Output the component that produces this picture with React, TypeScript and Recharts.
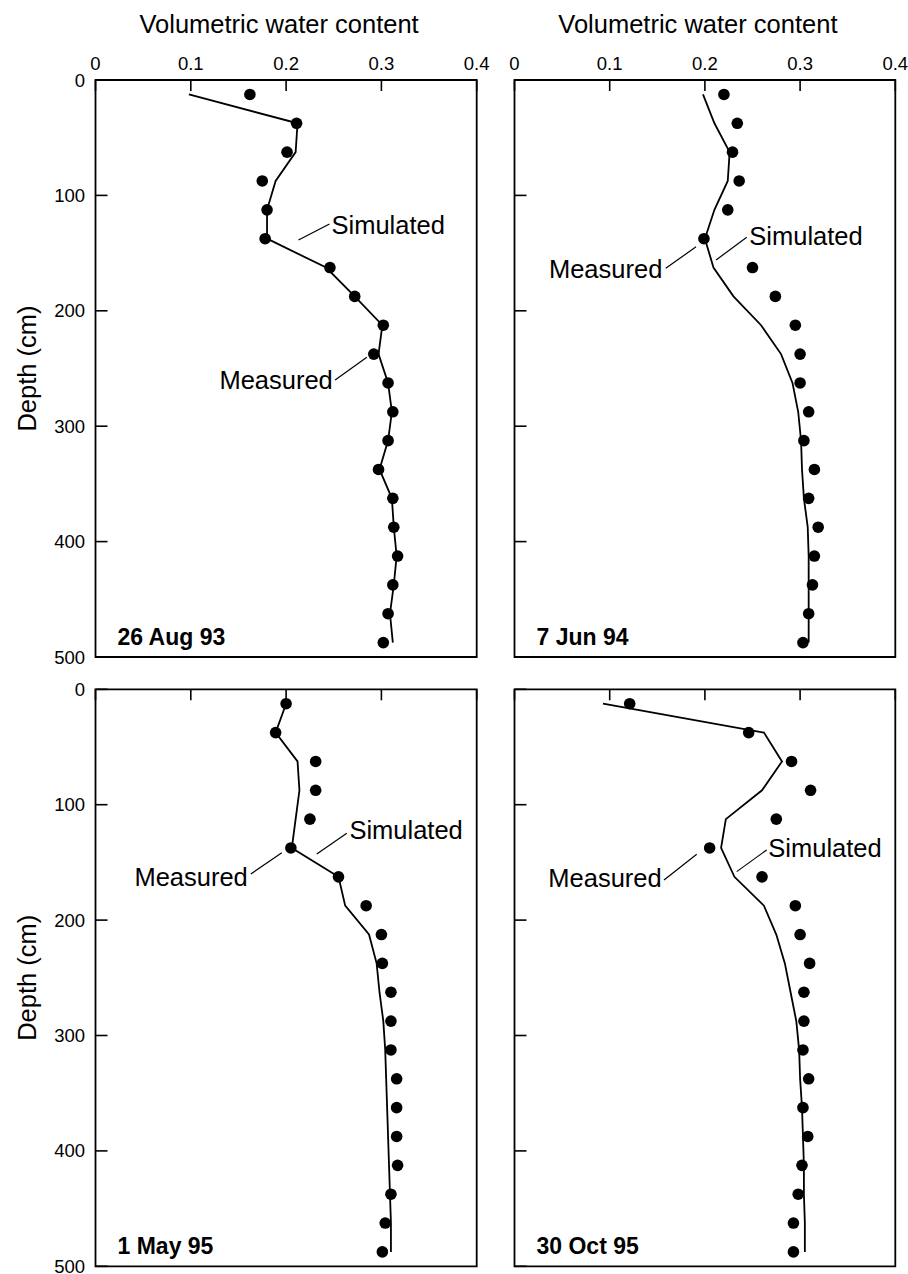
import React from "react";
import { ScatterChart, Scatter, XAxis, YAxis, ReferenceArea, ReferenceDot } from "recharts";

const FONT = '"Liberation Sans", Arial, Helvetica, sans-serif';

// sampling depths (cm), shared by every profile
const depths = [
  12.5, 37.5, 62.5, 87.5, 112.5, 137.5, 162.5, 187.5, 212.5, 237.5,
  262.5, 287.5, 312.5, 337.5, 362.5, 387.5, 412.5, 437.5, 462.5, 487.5,
];

const thetaTicks = [0, 0.1, 0.2, 0.3, 0.4];
const depthTicks = [0, 100, 200, 300, 400, 500];

// 26 Aug 93
const aug93Measured = [0.162, 0.211, 0.201, 0.175, 0.18, 0.178, 0.246, 0.272, 0.302, 0.292, 0.307, 0.312, 0.307, 0.297, 0.312, 0.313, 0.317, 0.312, 0.307, 0.302];
const aug93Simulated = [0.098, 0.212, 0.21, 0.189, 0.18, 0.18, 0.242, 0.272, 0.301, 0.297, 0.307, 0.311, 0.307, 0.298, 0.311, 0.313, 0.316, 0.313, 0.309, 0.312];

// 7 Jun 94
const jun94Measured = [0.22, 0.234, 0.229, 0.236, 0.224, 0.199, 0.25, 0.274, 0.295, 0.3, 0.3, 0.309, 0.304, 0.315, 0.309, 0.319, 0.315, 0.313, 0.309, 0.303];
const jun94Simulated = [0.198, 0.21, 0.226, 0.224, 0.21, 0.2, 0.209, 0.23, 0.259, 0.28, 0.292, 0.298, 0.301, 0.302, 0.304, 0.308, 0.309, 0.309, 0.309, 0.309];

// 1 May 95
const may95Measured = [0.2, 0.189, 0.231, 0.231, 0.225, 0.205, 0.255, 0.284, 0.3, 0.301, 0.31, 0.31, 0.31, 0.316, 0.316, 0.316, 0.317, 0.31, 0.304, 0.301];
const may95Simulated = [0.2, 0.189, 0.212, 0.214, 0.21, 0.206, 0.255, 0.262, 0.287, 0.295, 0.298, 0.302, 0.304, 0.305, 0.306, 0.307, 0.308, 0.309, 0.31, 0.31];

// 30 Oct 95
const oct95Measured = [0.121, 0.246, 0.291, 0.311, 0.275, 0.205, 0.26, 0.295, 0.3, 0.31, 0.304, 0.304, 0.303, 0.309, 0.303, 0.308, 0.302, 0.298, 0.293, 0.293];
const oct95Simulated = [0.093, 0.262, 0.281, 0.26, 0.222, 0.217, 0.231, 0.262, 0.275, 0.284, 0.29, 0.296, 0.299, 0.3, 0.302, 0.303, 0.304, 0.304, 0.305, 0.305];

const toRows = (values) => depths.map((depth, i) => ({ theta: values[i], depth }));

const fmtTheta = (v) => (v === 0 ? "0" : v.toFixed(1));
const blank = () => "";

function TitleLabel({ viewBox }) {
  return (
    <text x={viewBox.x + viewBox.width / 2 - 7} y={viewBox.y + 33} textAnchor="middle" fontSize={25.5} fill="#000">
      Volumetric water content
    </text>
  );
}

function DepthLabel({ viewBox }) {
  const cx = viewBox.x + 27;
  const cy = viewBox.y + viewBox.height / 2;
  return (
    <text x={cx} y={cy} transform={`rotate(-90, ${cx}, ${cy})`} textAnchor="middle" dominantBaseline="central" fontSize={25.5} fill="#000">
      Depth (cm)
    </text>
  );
}

const MeasuredDot = (p) => <circle cx={p.cx} cy={p.cy} r={5.8} fill="#000" />;
const NoDot = () => <g />;

// callout: leader starts at the anchor, text sits past the leader's far end
const noteShape = (n) => (p) => (
  <g>
    <line x1={p.cx} y1={p.cy} x2={p.cx + n.lx} y2={p.cy + n.ly} stroke="#000" strokeWidth={1.2} />
    <text x={p.cx + n.tx} y={p.cy + n.ty} textAnchor={n.side} fontSize={25.5} fill="#000">
      {n.text}
    </text>
  </g>
);

const dateShape = (text) => (p) => (
  <text x={p.cx + 22} y={p.cy - 12} fontSize={23} fontWeight="bold" fill="#000">
    {text}
  </text>
);

const sim = (theta, depth, lx, ly, tx, ty) => ({ text: "Simulated", side: "start", theta, depth, lx, ly, tx, ty });
const meas = (theta, depth, lx, ly, tx, ty) => ({ text: "Measured", side: "end", theta, depth, lx, ly, tx, ty });

const LEFT = { left: 0, width: 490, yAxisWidth: 95.5, marginRight: 13.3 };
const RIGHT = { left: 420, width: 488, yAxisWidth: 94.5, marginRight: 12.7 };
const TOP = { top: 0, height: 670, xAxisHeight: 80, marginBottom: 13 };
const BOTTOM = { top: 660, height: 614, xAxisHeight: 29.3, marginBottom: 7.7 };

const panels = [
  {
    date: "26 Aug 93", measured: aug93Measured, simulated: aug93Simulated, col: LEFT, row: TOP,
    notes: [sim(0.213, 138.6, 31, -16, 33, -6), meas(0.2847, 240.3, -31.7, 22.7, -34, 32)],
  },
  {
    date: "7 Jun 94", measured: jun94Measured, simulated: jun94Simulated, col: RIGHT, row: TOP,
    notes: [sim(0.2117, 156, 30.7, -22.7, 33.3, -15), meas(0.1907, 144.5, -30.3, 21.6, -33.7, 31.6)],
  },
  {
    date: "1 May 95", measured: may95Measured, simulated: may95Simulated, col: LEFT, row: BOTTOM,
    notes: [sim(0.2322, 142.7, 30, -20.7, 32.6, -14.7), meas(0.1955, 141.6, -31, 21.3, -34, 33)],
  },
  {
    date: "30 Oct 95", measured: oct95Measured, simulated: oct95Simulated, col: RIGHT, row: BOTTOM,
    notes: [sim(0.2334, 158, 30, -21.7, 31.6, -15), meas(0.1914, 143, -32.7, 25.7, -35, 33)],
  },
];

function Panel({ panel }) {
  const { col, row } = panel;
  const isTop = row === TOP;
  const isLeft = col === LEFT;
  return (
    <div style={{ position: "absolute", left: col.left, top: row.top }}>
      <ScatterChart
        width={col.width}
        height={row.height}
        margin={{ top: 0, left: 0, right: col.marginRight, bottom: row.marginBottom }}
      >
        <XAxis
          type="number"
          dataKey="theta"
          orientation="top"
          domain={[0, 0.4]}
          ticks={thetaTicks}
          interval={0}
          height={row.xAxisHeight}
          axisLine={false}
          tickSize={-11}
          tickMargin={21}
          tickLine={{ stroke: "#000", strokeWidth: 1.6 }}
          tick={{ fontSize: 18.5, fill: "#000" }}
          tickFormatter={isTop ? fmtTheta : blank}
          label={isTop ? TitleLabel : undefined}
        />
        <YAxis
          type="number"
          dataKey="depth"
          reversed
          domain={[0, 500]}
          ticks={depthTicks}
          interval={0}
          width={col.yAxisWidth}
          axisLine={false}
          tickSize={-12}
          tickMargin={22.5}
          tickLine={{ stroke: "#000", strokeWidth: 1.6 }}
          tick={{ fontSize: 18.5, fill: "#000" }}
          tickFormatter={isLeft ? undefined : blank}
          label={isLeft ? DepthLabel : undefined}
        />
        <ReferenceArea x1={0} x2={0.4} y1={0} y2={500} fill="none" stroke="#000" strokeWidth={1.8} ifOverflow="visible" />
        <Scatter
          data={toRows(panel.simulated)}
          stroke="#000"
          line={{ stroke: "#000", strokeWidth: 1.8 }}
          shape={NoDot}
          isAnimationActive={false}
        />
        <Scatter data={toRows(panel.measured)} fill="#000" shape={MeasuredDot} isAnimationActive={false} />
        {panel.notes.map((n) => (
          <ReferenceDot key={n.text} x={n.theta} y={n.depth} ifOverflow="visible" shape={noteShape(n)} />
        ))}
        <ReferenceDot x={0} y={500} ifOverflow="visible" shape={dateShape(panel.date)} />
      </ScatterChart>
    </div>
  );
}

export default function App() {
  return (
    <div style={{ position: "absolute", left: 0, top: 0, width: 908, height: 1274, background: "#fff", fontFamily: FONT }}>
      {panels.map((p) => (
        <Panel key={p.date} panel={p} />
      ))}
    </div>
  );
}
